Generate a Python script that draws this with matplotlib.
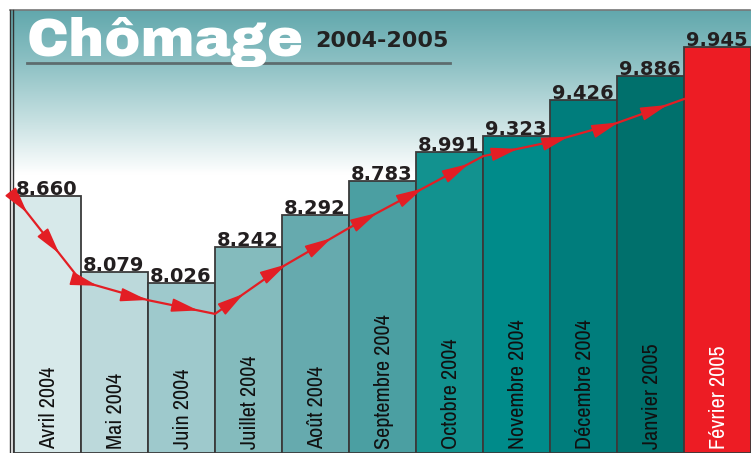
import numpy as np
import matplotlib
matplotlib.use("Agg")
import matplotlib.pyplot as plt
from matplotlib.colors import LinearSegmentedColormap

# months shown on the bars
months = ["Avril 2004", "Mai 2004", "Juin 2004", "Juillet 2004", "Août 2004",
          "Septembre 2004", "Octobre 2004", "Novembre 2004", "Décembre 2004",
          "Janvier 2005", "Février 2005"]
# printed values (thousands of job seekers, as written on the chart)
values = ["8.660", "8.079", "8.026", "8.242", "8.292", "8.783",
          "8.991", "9.323", "9.426", "9.886", "9.945"]
# bar heights as drawn (the artist did not draw them to scale), % of chart height
bar_heights = [58.0, 40.9, 38.4, 46.5, 53.7, 61.4, 67.9, 71.6, 79.7, 85.1, 91.6]
# red trend line, one point per bar edge, same scale
trend = [58.0, 38.8, 34.5, 31.4, 42.0, 50.8, 58.9, 67.0, 70.2, 74.5, 79.9]

bar_colors = ["#d7e9ea", "#bcd9db", "#9ec9cc", "#84bbbd", "#66aaae", "#4b9fa2",
              "#12928f", "#008b8a", "#007d7c", "#00706c", "#ed1c24"]

W, H = 751, 453
fig = plt.figure(figsize=(W / 100, H / 100), dpi=100)

# background layer in pixel coordinates: gradient, frame, title
bg = fig.add_axes([0, 0, 1, 1])
bg.set_xlim(0, W)
bg.set_ylim(H, 0)
bg.axis("off")
cmap = LinearSegmentedColormap.from_list("sky", ["#62a8ad", "#8fc2c5", "#c6e0e1", "#ffffff"])
grad = np.linspace(0, 1, 200).reshape(-1, 1)
bg.imshow(grad, cmap=cmap, aspect="auto", extent=[10, W, 175, 10], zorder=0)
bg.plot([10, 750], [10, 10], color="#777777", lw=1.2)
bg.plot([10, 10], [10, H], color="#333333", lw=1)
bg.plot([13, 13], [10, H], color="#333333", lw=1)
bg.plot([27, 450], [63, 63], color="#5d6c6e", lw=2)
bg.text(27, 56, "Chômage", color="white", fontsize=39,
        family=["Archivo Black", "DejaVu Sans"], va="baseline", ha="left")
bg.text(315, 47, "2004-2005", color="#222222", fontsize=16, fontweight="bold",
        family="DejaVu Sans", va="baseline", ha="left")

# bar chart
ax = fig.add_axes([14 / W, 0, 737 / W, 443 / H])
ax.set_xlim(0, 11)
ax.set_ylim(0, 100)
ax.axis("off")
ax.patch.set_alpha(0)

idx = np.arange(len(months))
ax.bar(idx, bar_heights, width=1, align="edge", color=bar_colors,
       edgecolor="#3a3a3a", linewidth=1.3, zorder=2)

for i, (m, v, h) in enumerate(zip(months, values, bar_heights)):
    ax.text(i + 0.03, h + 0.2, v, fontsize=14, fontweight="bold",
            color="#231f20", family="DejaVu Sans", ha="left", va="baseline",
            zorder=4)
    ax.text(i + 0.52, 0.8, m, rotation=90, fontsize=16, fontweight="semibold",
            family=["Archivo Narrow", "DejaVu Sans"],
            color="white" if i == len(months) - 1 else "#111111",
            ha="center", va="bottom", zorder=4)

red = "#e31e24"
tx = np.arange(len(trend))
ax.plot(tx, trend, color=red, lw=1.6, zorder=3, solid_joinstyle="miter")

# arrowheads spaced evenly along the line
pts = ax.transData.transform(np.column_stack([tx, trend]))
seg = np.hypot(*np.diff(pts, axis=0).T)
cum = np.concatenate([[0], np.cumsum(seg)])
inv = ax.transData.inverted()
for s in np.arange(24, cum[-1] - 5, 52):
    k = np.searchsorted(cum, s) - 1
    d = (pts[k + 1] - pts[k]) / seg[k]
    tip = pts[k] + d * (s - cum[k])
    tail = tip - d * 12
    ax.annotate("", xy=inv.transform(tip), xytext=inv.transform(tail),
                arrowprops=dict(arrowstyle="-|>,head_length=1.1,head_width=0.28",
                                color=red, lw=1.2, mutation_scale=15),
                zorder=3)

fig.savefig("out.png", dpi=100)
